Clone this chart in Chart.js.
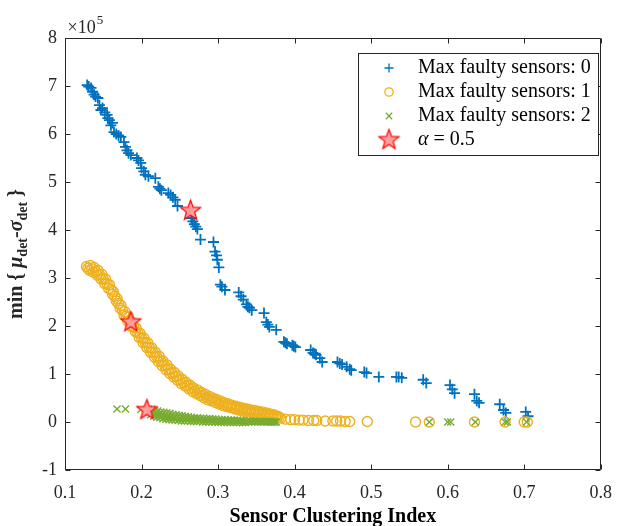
<!DOCTYPE html>
<html>
<head>
<meta charset="utf-8">
<script src="https://cdn.jsdelivr.net/npm/chart.js@4/dist/chart.umd.min.js"></script>
<style>
  html, body { margin: 0; padding: 0; background: #fff; }
  #chart { display: block; }
</style>
</head>
<body>
<canvas id="chart" width="624" height="526"></canvas>
<script>
// Max faulty sensors: 0
const faulty0X = [0.129, 0.131, 0.134, 0.136, 0.138, 0.140, 0.143, 0.145, 0.147, 0.149,
  0.152, 0.155, 0.156, 0.158, 0.160, 0.162, 0.164, 0.167, 0.170, 0.173,
  0.177, 0.179, 0.181, 0.183, 0.186, 0.194, 0.196, 0.199, 0.200, 0.203,
  0.205, 0.209, 0.218, 0.222, 0.224, 0.226, 0.235, 0.238, 0.241, 0.244,
  0.247, 0.264, 0.265, 0.267, 0.269, 0.271, 0.273, 0.277, 0.294, 0.296,
  0.298, 0.299, 0.301, 0.303, 0.305, 0.309, 0.327, 0.330, 0.333, 0.337,
  0.339, 0.341, 0.344, 0.360, 0.363, 0.365, 0.367, 0.376, 0.386, 0.388,
  0.390, 0.397, 0.399, 0.401, 0.421, 0.424, 0.426, 0.428, 0.433, 0.436,
  0.456, 0.459, 0.462, 0.468, 0.472, 0.474, 0.491, 0.494, 0.510, 0.533,
  0.536, 0.540, 0.568, 0.572, 0.603, 0.606, 0.609, 0.635, 0.638, 0.641,
  0.668, 0.673, 0.676, 0.702, 0.705];
const faulty0Y = [7.02, 6.99, 6.96, 6.88, 6.82, 6.78, 6.75, 6.60, 6.50, 6.54,
  6.45, 6.40, 6.33, 6.29, 6.18, 6.23, 6.04, 6.00, 5.97, 5.94,
  5.83, 5.73, 5.66, 5.60, 5.56, 5.50, 5.45, 5.40, 5.29, 5.22,
  5.15, 5.12, 5.08, 4.90, 4.86, 4.83, 4.77, 4.73, 4.68, 4.63,
  4.50, 4.40, 4.25, 4.18, 4.12, 4.07, 4.02, 3.80, 3.75, 3.55,
  3.47, 3.38, 3.22, 2.86, 2.82, 2.75, 2.70, 2.62, 2.55, 2.45,
  2.40, 2.38, 2.33, 2.27, 2.08, 2.03, 1.98, 1.92, 1.67, 1.65,
  1.63, 1.60, 1.58, 1.56, 1.50, 1.44, 1.42, 1.40, 1.33, 1.25,
  1.25, 1.22, 1.20, 1.15, 1.10, 1.08, 1.04, 1.02, 0.94, 0.94,
  0.94, 0.92, 0.88, 0.81, 0.77, 0.68, 0.60, 0.58, 0.44, 0.40,
  0.37, 0.25, 0.19, 0.21, 0.12];

// Max faulty sensors: 1
const faulty1X = [
  0.128, 0.130, 0.132, 0.133, 0.135, 0.137, 0.138, 0.140, 0.142, 0.143, 0.145, 0.147,
  0.148, 0.150, 0.152, 0.153, 0.155, 0.157, 0.158, 0.160, 0.162, 0.163, 0.165, 0.167,
  0.168, 0.170, 0.172, 0.173, 0.175, 0.177, 0.178, 0.180, 0.182, 0.183, 0.185, 0.187,
  0.188, 0.190, 0.192, 0.193, 0.195, 0.197, 0.198, 0.200, 0.202, 0.203, 0.205, 0.207,
  0.208, 0.210, 0.212, 0.213, 0.215, 0.217, 0.218, 0.220, 0.222, 0.223, 0.225, 0.227,
  0.228, 0.230, 0.232, 0.233, 0.235, 0.237, 0.238, 0.240, 0.242, 0.243, 0.245, 0.247,
  0.248, 0.250, 0.252, 0.253, 0.255, 0.257, 0.258, 0.260, 0.262, 0.263, 0.265, 0.267,
  0.268, 0.270, 0.272, 0.273, 0.275, 0.277, 0.278, 0.280, 0.282, 0.283, 0.285, 0.287,
  0.288, 0.290, 0.292, 0.293, 0.295, 0.297, 0.298, 0.300, 0.302, 0.303, 0.305, 0.307,
  0.308, 0.310, 0.312, 0.313, 0.315, 0.317, 0.318, 0.320, 0.322, 0.323, 0.325, 0.327,
  0.328, 0.330, 0.332, 0.333, 0.335, 0.337, 0.338, 0.340, 0.342, 0.343, 0.345, 0.347,
  0.348, 0.350, 0.352, 0.353, 0.355, 0.357, 0.358, 0.360, 0.362, 0.363, 0.365, 0.367,
  0.368, 0.370, 0.372, 0.373, 0.375, 0.377, 0.378, 0.380, 0.382,
  0.388, 0.395, 0.400, 0.406, 0.411, 0.418, 0.425, 0.429, 0.440, 0.450,
  0.455, 0.460, 0.466, 0.472, 0.495, 0.558, 0.576, 0.635, 0.675, 0.700, 0.704];
const faulty1Y = [
  3.24, 3.20, 3.16, 3.26, 3.19, 3.12, 3.22, 3.14, 3.06, 3.16, 3.07, 2.98,
  3.08, 2.98, 2.88, 2.98, 2.88, 2.78, 2.86, 2.76, 2.66, 2.72, 2.62, 2.52,
  2.57, 2.47, 2.37, 2.43, 2.33, 2.23, 2.30, 2.20, 2.10, 2.19, 2.09, 1.99,
  2.08, 1.98, 1.88, 1.96, 1.86, 1.76, 1.85, 1.75, 1.65, 1.75, 1.65, 1.55,
  1.65, 1.55, 1.45, 1.55, 1.45, 1.35, 1.46, 1.36, 1.26, 1.37, 1.27, 1.17,
  1.27, 1.18, 1.09, 1.19, 1.10, 1.01, 1.10, 1.02, 0.94, 1.03, 0.95, 0.87,
  0.96, 0.88, 0.80, 0.89, 0.82, 0.75, 0.83, 0.76, 0.69, 0.77, 0.70, 0.63,
  0.71, 0.65, 0.59, 0.67, 0.61, 0.55, 0.62, 0.56, 0.50, 0.58, 0.52, 0.46,
  0.54, 0.49, 0.44, 0.50, 0.45, 0.40, 0.47, 0.42, 0.37, 0.44, 0.39, 0.34,
  0.40, 0.36, 0.32, 0.38, 0.34, 0.30, 0.35, 0.31, 0.27, 0.33, 0.29, 0.25,
  0.31, 0.27, 0.23, 0.29, 0.25, 0.21, 0.27, 0.24, 0.21, 0.25, 0.22, 0.19,
  0.24, 0.21, 0.18, 0.22, 0.19, 0.16, 0.21, 0.18, 0.15, 0.19, 0.16, 0.13,
  0.17, 0.14, 0.11, 0.15, 0.12, 0.09, 0.12, 0.10, 0.08,
  0.06, 0.05, 0.05, 0.04, 0.04, 0.03, 0.03, 0.03, 0.02, 0.02,
  0.02, 0.02, 0.01, 0.01, 0.01, 0.00, 0.00, 0.00, 0.00, 0.00, 0.00];

// Max faulty sensors: 2
const faulty2X = [0.168, 0.179, 0.199,
  0.209, 0.210, 0.212, 0.213, 0.214, 0.216, 0.217, 0.218, 0.220, 0.221, 0.222, 0.224,
  0.225, 0.226, 0.228, 0.229, 0.230, 0.232, 0.233, 0.234, 0.236, 0.237, 0.238, 0.240,
  0.241, 0.242, 0.244, 0.245, 0.246, 0.248, 0.249, 0.250, 0.252, 0.253, 0.254, 0.256,
  0.257, 0.258, 0.260, 0.261, 0.262, 0.264, 0.265, 0.266, 0.268, 0.269, 0.270, 0.272,
  0.273, 0.274, 0.276, 0.277, 0.278, 0.280, 0.281, 0.282, 0.284, 0.285, 0.286, 0.288,
  0.289, 0.290, 0.292, 0.293, 0.294, 0.296, 0.297, 0.298, 0.300, 0.301, 0.302, 0.304,
  0.305, 0.306, 0.308, 0.309, 0.310, 0.312, 0.313, 0.314, 0.316, 0.317, 0.318, 0.320,
  0.321, 0.322, 0.324, 0.325, 0.326, 0.328, 0.329, 0.330, 0.332, 0.333, 0.334, 0.336,
  0.338, 0.340, 0.342, 0.344, 0.346, 0.348, 0.350, 0.352, 0.354, 0.356, 0.358, 0.360,
  0.362, 0.364, 0.366, 0.368, 0.370, 0.372, 0.374, 0.376,
  0.576, 0.600, 0.604, 0.636, 0.675, 0.678, 0.703];
const faulty2Y = [0.27, 0.27, 0.26,
  0.27, 0.21, 0.15, 0.26, 0.19, 0.12, 0.24, 0.17, 0.10, 0.23, 0.16, 0.09,
  0.21, 0.14, 0.07, 0.20, 0.13, 0.06, 0.19, 0.12, 0.05, 0.18, 0.11, 0.04,
  0.16, 0.10, 0.04, 0.15, 0.09, 0.03, 0.14, 0.08, 0.02, 0.13, 0.08, 0.02,
  0.12, 0.07, 0.02, 0.11, 0.06, 0.01, 0.10, 0.06, 0.01, 0.09, 0.05, 0.01,
  0.09, 0.05, 0.01, 0.08, 0.04, 0.00, 0.08, 0.04, 0.00, 0.07, 0.03, 0.00,
  0.07, 0.03, 0.00, 0.06, 0.03, 0.00, 0.06, 0.02, -0.01, 0.05, 0.02, -0.01,
  0.05, 0.02, -0.01, 0.05, 0.02, -0.01, 0.04, 0.01, -0.01, 0.04, 0.01, -0.01,
  0.04, 0.01, -0.01, 0.04, 0.01, -0.01, 0.03, 0.01, -0.01, 0.03, 0.00, -0.01,
  0.02, 0.00, 0.02, 0.00, 0.02, 0.00, 0.01, 0.00, 0.01, 0.00, 0.01, 0.00,
  0.01, 0.00, 0.01, 0.00, 0.00, 0.00, 0.00, 0.00,
  0.00, 0.00, 0.00, 0.00, 0.00, 0.00, 0.00];

// alpha = 0.5 operating points
const alphaX = [0.264, 0.186, 0.207];
const alphaY = [4.40, 2.08, 0.25];

const seriesLabels = ['Max faulty sensors: 0', 'Max faulty sensors: 1', 'Max faulty sensors: 2', 'α = 0.5'];
const seriesColors = ['#0072BD', '#EDB120', '#77AC30', '#FF0000'];

const SERIF = "'Liberation Serif', 'Times New Roman', serif";
const AXIS_COLOR = '#262626';

function toPoints(xs, ys) {
  return xs.map((x, i) => ({ x: x, y: ys[i] }));
}

// filled 5-point star used as a point style
function makeStar(r) {
  const size = Math.ceil(r * 2 + 4);
  const c = document.createElement('canvas');
  c.width = size;
  c.height = size;
  const g = c.getContext('2d');
  const cx = size / 2, cy = size / 2, inner = r * 0.42;
  g.beginPath();
  for (let i = 0; i < 10; i++) {
    const rad = i % 2 === 0 ? r : inner;
    const a = -Math.PI / 2 + i * Math.PI / 5;
    const px = cx + rad * Math.cos(a), py = cy + rad * Math.sin(a);
    if (i === 0) g.moveTo(px, py); else g.lineTo(px, py);
  }
  g.closePath();
  g.fillStyle = '#FF9C9C';
  g.fill();
  g.strokeStyle = '#FF0000';
  g.lineWidth = 1.2;
  g.stroke();
  return c;
}
const starImg = makeStar(10.5);

// axes box with inward ticks on all four sides
const axesBox = {
  id: 'axesBox',
  afterDraw(chart) {
    const { ctx, chartArea: a, scales } = chart;
    const L = Math.round(a.left) + 0.5, R = Math.round(a.right) - 0.5;
    const T = Math.round(a.top) + 0.5, B = Math.round(a.bottom) - 0.5;
    const len = 5;
    ctx.save();
    ctx.strokeStyle = AXIS_COLOR;
    ctx.lineWidth = 1;
    ctx.beginPath();
    ctx.rect(L, T, R - L, B - T);
    scales.x.ticks.forEach(t => {
      const px = Math.round(scales.x.getPixelForValue(t.value)) + 0.5;
      ctx.moveTo(px, B); ctx.lineTo(px, B - len);
      ctx.moveTo(px, T); ctx.lineTo(px, T + len);
    });
    scales.y.ticks.forEach(t => {
      const py = Math.round(scales.y.getPixelForValue(t.value)) + 0.5;
      ctx.moveTo(L, py); ctx.lineTo(L + len, py);
      ctx.moveTo(R, py); ctx.lineTo(R - len, py);
    });
    ctx.stroke();

    // exponent label above the y axis
    ctx.fillStyle = AXIS_COLOR;
    ctx.textBaseline = 'alphabetic';
    ctx.font = '18px ' + SERIF;
    ctx.fillText('×10', L + 2, T - 6);
    const w = ctx.measureText('×10').width;
    ctx.font = '13px ' + SERIF;
    ctx.fillText('5', L + 3 + w, T - 15);

    // y axis title with subscripts
    const parts = [
      ['min { ', 'bold 20px ' + SERIF, 0],
      ['μ', 'bold italic 20px ' + SERIF, 0],
      ['det', 'bold 14px ' + SERIF, 5],
      ['-', 'bold 20px ' + SERIF, 0],
      ['σ', 'bold italic 20px ' + SERIF, 0],
      ['det', 'bold 14px ' + SERIF, 5],
      [' }', 'bold 20px ' + SERIF, 0]
    ];
    let total = 0;
    parts.forEach(p => { ctx.font = p[1]; total += ctx.measureText(p[0]).width; });
    ctx.translate(22, (a.top + a.bottom) / 2);
    ctx.rotate(-Math.PI / 2);
    let x = -total / 2;
    parts.forEach(p => {
      ctx.font = p[1];
      ctx.fillText(p[0], x, p[2]);
      x += ctx.measureText(p[0]).width;
    });
    ctx.restore();

    drawLegend(chart);
  }
};

function drawLegend(chart) {
  const { ctx } = chart;
  const bx = 358.5, by = 53.5, bw = 240, bh = 102;
  const rowY = [68, 92, 116, 140];
  const markX = 389, textX = 418;
  ctx.save();
  ctx.fillStyle = '#fff';
  ctx.fillRect(bx, by, bw, bh);
  ctx.strokeStyle = AXIS_COLOR;
  ctx.lineWidth = 1;
  ctx.strokeRect(bx, by, bw, bh);
  const drawPoint = Chart.helpers.drawPoint;
  chart.data.datasets.forEach((ds, i) => {
    const y = rowY[i];
    ctx.strokeStyle = ds.borderColor;
    ctx.fillStyle = 'rgba(0,0,0,0)';
    ctx.lineWidth = 1.3;
    const r = i === 3 ? 10.5 : (i === 1 ? 4.2 : 4.5);
    drawPoint(ctx, { pointStyle: ds.pointStyle, radius: r, rotation: 0, borderWidth: 1.3 }, markX, y);
    ctx.fillStyle = '#000';
    ctx.textBaseline = 'middle';
    if (i === 3) {
      ctx.font = 'italic 20px ' + SERIF;
      ctx.fillText('α', textX, y);
      const w = ctx.measureText('α').width;
      ctx.font = '20px ' + SERIF;
      ctx.fillText(' = 0.5', textX + w, y);
    } else {
      ctx.font = '20px ' + SERIF;
      ctx.fillText(seriesLabels[i], textX, y);
    }
  });
  ctx.restore();
}

const ctx = document.getElementById('chart');
new Chart(ctx, {
  type: 'scatter',
  data: {
    datasets: [
      {
        label: seriesLabels[0],
        data: toPoints(faulty0X, faulty0Y),
        pointStyle: 'cross',
        pointRadius: 5.5,
        borderColor: seriesColors[0],
        backgroundColor: seriesColors[0],
        borderWidth: 1.8,
        order: 3
      },
      {
        label: seriesLabels[1],
        data: toPoints(faulty1X, faulty1Y),
        pointStyle: 'circle',
        pointRadius: 5,
        borderColor: seriesColors[1],
        backgroundColor: 'rgba(0,0,0,0)',
        borderWidth: 1.4,
        order: 2
      },
      {
        label: seriesLabels[2],
        data: toPoints(faulty2X, faulty2Y),
        pointStyle: 'crossRot',
        pointRadius: 5,
        borderColor: seriesColors[2],
        backgroundColor: seriesColors[2],
        borderWidth: 1.4,
        order: 1
      },
      {
        label: seriesLabels[3],
        data: toPoints(alphaX, alphaY),
        pointStyle: starImg,
        pointRadius: 10,
        borderColor: seriesColors[3],
        backgroundColor: '#FF9C9C',
        borderWidth: 1.2,
        order: 0
      }
    ]
  },
  options: {
    responsive: false,
    animation: false,
    events: [],
    layout: { padding: { top: 38, right: 13, left: 0, bottom: 0 } },
    plugins: {
      legend: { display: false },
      tooltip: { enabled: false }
    },
    scales: {
      x: {
        type: 'linear',
        min: 0.1,
        max: 0.8,
        afterFit: scale => { scale.height = 56; },
        grid: { display: false, drawTicks: false },
        border: { display: false },
        ticks: {
          stepSize: 0.1,
          padding: 12,
          color: AXIS_COLOR,
          font: { family: SERIF, size: 18 },
          callback: v => v.toFixed(1)
        },
        title: {
          display: true,
          text: 'Sensor Clustering Index',
          color: '#000',
          font: { family: SERIF, size: 20, weight: 'bold', lineHeight: 0.9 },
          padding: { top: 0, bottom: 0 }
        }
      },
      y: {
        type: 'linear',
        min: -1,
        max: 8,
        afterFit: scale => { scale.width = 65; },
        grid: { display: false, drawTicks: false },
        border: { display: false },
        ticks: {
          stepSize: 1,
          padding: 8,
          color: AXIS_COLOR,
          font: { family: SERIF, size: 18 },
          callback: v => String(v)
        }
      }
    }
  },
  plugins: [axesBox]
});
</script>
</body>
</html>
